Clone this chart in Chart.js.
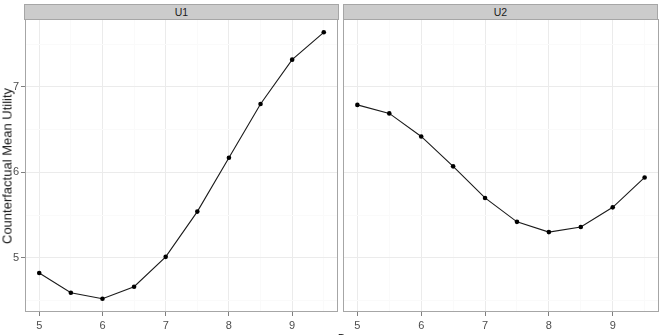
<!DOCTYPE html>
<html>
<head>
<meta charset="utf-8">
<script src="https://cdn.jsdelivr.net/npm/chart.js@4.4.1/dist/chart.umd.min.js"></script>
<style>
  html, body { margin: 0; padding: 0; background: #fff; }
  #wrap { position: relative; width: 663px; height: 335px; overflow: hidden; font-family: "Liberation Sans", Arial, sans-serif; }
  .strip { position: absolute; top: 4px; height: 14px; background: #cccccc; border: 1px solid #a6a6a6;
           font-size: 10.5px; color: #1a1a1a; text-align: center; line-height: 14px; }
  canvas { position: absolute; }
  #ytitle { position: absolute; left: 7px; top: 166px; transform: translate(-50%, -50%) rotate(-90deg);
            font-size: 13px; color: #1a1a1a; white-space: nowrap; }
  #xtitle { position: absolute; left: 341px; top: 329px; transform: translateX(-50%); font-size: 13px; color: #1a1a1a; }
</style>
</head>
<body>
<div id="wrap">
  <div class="strip" id="s1" style="left:24px; width:313px;">U1</div>
  <div class="strip" id="s2" style="left:343px; width:313px;">U2</div>
  <canvas id="c1"></canvas>
  <canvas id="c2"></canvas>
  <div id="ytitle">Counterfactual Mean Utility</div>
  <div id="xtitle">τ</div>
</div>
<script>
// data
const tau = [5, 5.5, 6, 6.5, 7, 7.5, 8, 8.5, 9, 9.5];
const u1 = [4.82, 4.59, 4.52, 4.66, 5.01, 5.54, 6.17, 6.80, 7.32, 7.64];
const u2 = [6.79, 6.69, 6.42, 6.07, 5.70, 5.42, 5.30, 5.36, 5.59, 5.94];
const panels = ['U1', 'U2'];
const xBreaks = [5, 5.5, 6, 6.5, 7, 7.5, 8, 8.5, 9, 9.5];
const yBreaks = [4.5, 5, 5.5, 6, 6.5, 7, 7.5];

// ggplot style 5% expansion
const allY = u1.concat(u2);
const yLo = Math.min(...allY), yHi = Math.max(...allY);
const yPad = (yHi - yLo) * 0.05;
const xLo = Math.min(...tau), xHi = Math.max(...tau);
const xPad = (xHi - xLo) * 0.05;

const isMajor = v => Math.abs(v - Math.round(v)) < 1e-9;

const panelBorder = {
    id: 'panelBorder',
    afterDatasetsDraw(chart) {
        const a = chart.chartArea, ctx = chart.ctx;
        ctx.save();
        ctx.strokeStyle = '#a6a6a6';
        ctx.lineWidth = 1;
        ctx.strokeRect(Math.round(a.left) + 0.5, Math.round(a.top) + 0.5,
                       Math.round(a.right - a.left) - 1, Math.round(a.bottom - a.top) - 1);
        ctx.restore();
    }
};

function makePanel(id, left, width, values, showY) {
    const cv = document.getElementById(id);
    cv.style.left = left + 'px';
    cv.style.top = '19px';
    cv.style.width = width + 'px';
    cv.style.height = '316px';
    cv.width = width;
    cv.height = 316;
    return new Chart(cv, {
        type: 'line',
        data: {
            datasets: [{
                data: tau.map((t, i) => ({ x: t, y: values[i] })),
                borderColor: '#1a1a1a',
                borderWidth: 1.1,
                pointRadius: 2.3,
                pointBackgroundColor: '#000',
                pointBorderWidth: 0,
                tension: 0
            }]
        },
        options: {
            responsive: false,
            animation: false,
            devicePixelRatio: 1,
            layout: { autoPadding: false, padding: { left: showY ? 0 : 4, right: 1, top: 0, bottom: 0 } },
            plugins: { legend: { display: false }, tooltip: { enabled: false } },
            scales: {
                x: {
                    type: 'linear',
                    min: xLo - xPad,
                    max: xHi + xPad,
                    afterBuildTicks: s => { s.ticks = xBreaks.map(v => ({ value: v })); },
                    afterFit: s => { s.height = 23; s.paddingLeft = 0; s.paddingRight = 0; },
                    border: { display: false },
                    grid: {
                        color: c => isMajor(c.tick.value) ? '#ebebeb' : '#fafafa',
                        tickColor: c => isMajor(c.tick.value) ? '#7f7f7f' : 'rgba(0,0,0,0)',
                        tickLength: 4,
                        lineWidth: 1
                    },
                    ticks: {
                        autoSkip: false,
                        maxRotation: 0,
                        padding: 3,
                        color: '#4d4d4d',
                        font: { size: 11, family: 'Liberation Sans' },
                        callback: v => isMajor(v) ? String(v) : ''
                    }
                },
                y: {
                    min: yLo - yPad,
                    max: yHi + yPad,
                    afterBuildTicks: s => { s.ticks = yBreaks.map(v => ({ value: v })); },
                    afterFit: s => { s.width = showY ? 25 : 0; s.paddingTop = 0; s.paddingBottom = 0; },
                    border: { display: false },
                    grid: {
                        color: c => isMajor(c.tick.value) ? '#ebebeb' : '#fafafa',
                        tickColor: c => (showY && isMajor(c.tick.value)) ? '#7f7f7f' : 'rgba(0,0,0,0)',
                        tickLength: showY ? 4 : 0,
                        lineWidth: 1
                    },
                    ticks: {
                        display: showY,
                        autoSkip: false,
                        padding: 2,
                        color: '#4d4d4d',
                        font: { size: 11, family: 'Liberation Sans' },
                        callback: v => isMajor(v) ? String(v) : ''
                    }
                }
            }
        },
        plugins: [panelBorder]
    });
}

makePanel('c1', 0, 339, u1, true);
makePanel('c2', 339, 321, u2, false);
</script>
</body>
</html>
